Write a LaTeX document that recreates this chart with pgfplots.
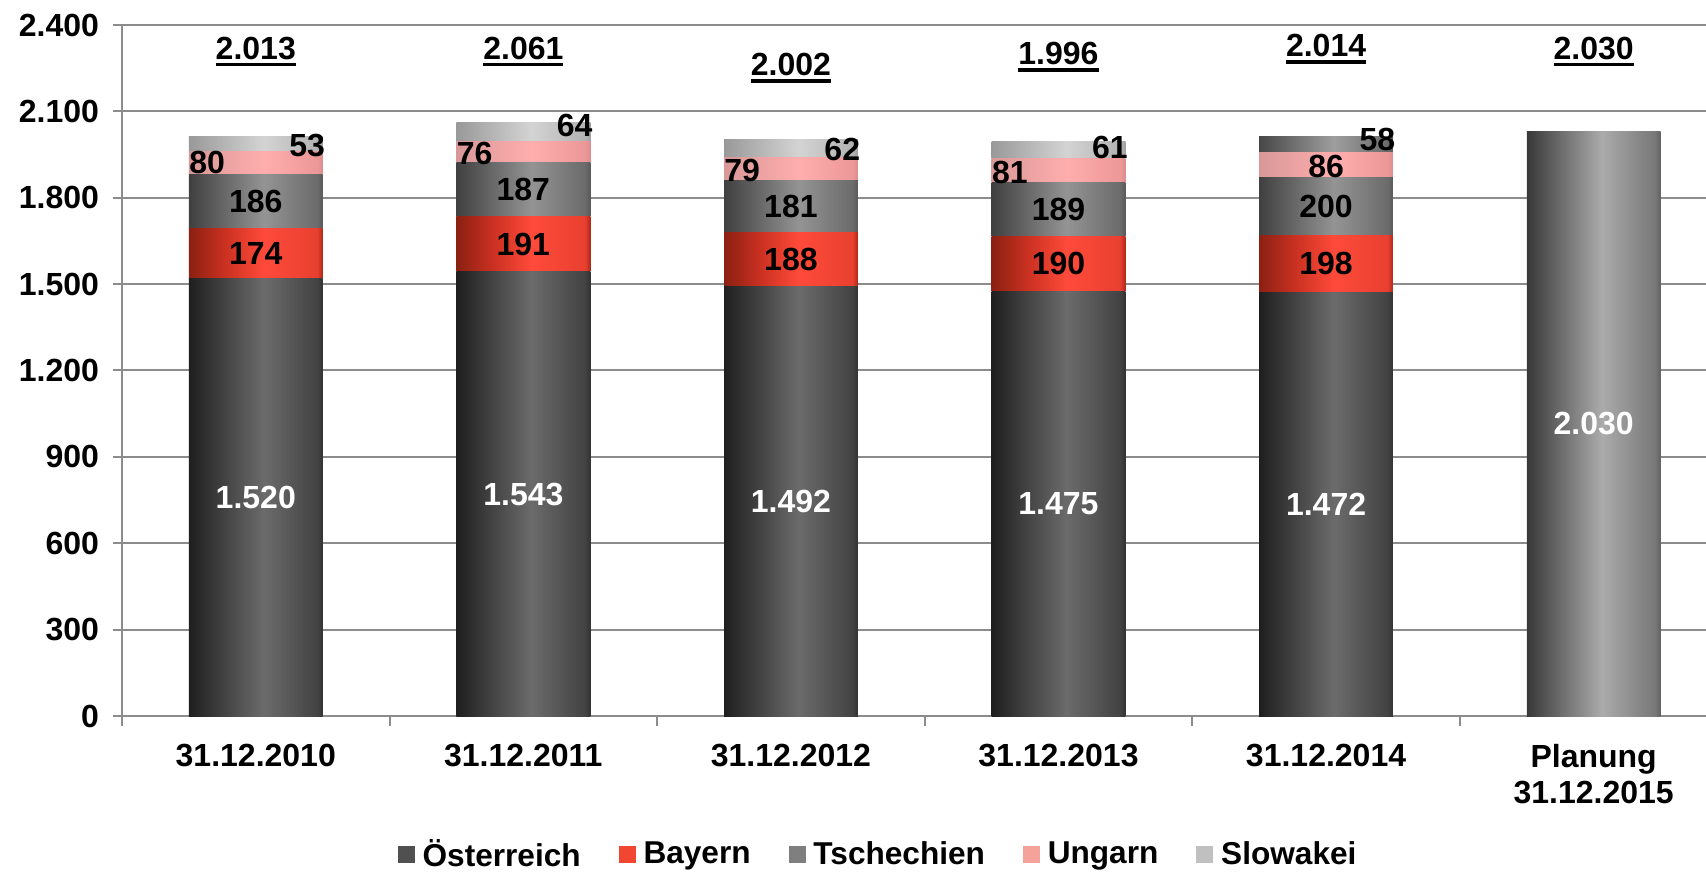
\documentclass[border=0pt]{standalone}
\usepackage{fontspec}
\setmainfont{Liberation Sans}
\usepackage{pgfplots}
\pgfplotsset{compat=1.18}

\definecolor{gridgray}{HTML}{8C8C8C}
\definecolor{oeLeg}{HTML}{505050}\definecolor{bayLeg}{HTML}{F04632}
\definecolor{tsLeg}{HTML}{7F7F7F}\definecolor{unLeg}{HTML}{F5A39A}\definecolor{slLeg}{HTML}{C0C0C0}
\definecolor{bay1}{HTML}{8A2012}\definecolor{bay2}{HTML}{C83020}\definecolor{bay3}{HTML}{FF4A3A}
\definecolor{bay4}{HTML}{E84030}\definecolor{bay5}{HTML}{B02818}

% horizontal gradients: dark left, light peak at ~57%, darker right, dark edge
\pgfdeclarehorizontalshading{oeS}{100bp}{color(0bp)=(black!88); color(25bp)=(black!88); color(53bp)=(black!58); color(73bp)=(black!74); color(75bp)=(black!80); color(100bp)=(black!80)}
\pgfdeclarehorizontalshading{bayS}{100bp}{color(0bp)=(bay1); color(25bp)=(bay1); color(38bp)=(bay2); color(53bp)=(bay3); color(73bp)=(bay4); color(75bp)=(bay5); color(100bp)=(bay5)}
\pgfdeclarehorizontalshading{tsS}{100bp}{color(0bp)=(black!75); color(25bp)=(black!75); color(53bp)=(black!42); color(73bp)=(black!58); color(75bp)=(black!65); color(100bp)=(black!65)}
\pgfdeclarehorizontalshading{unS}{100bp}{color(0bp)=(red!30!white!85!black); color(25bp)=(red!30!white!85!black); color(53bp)=(red!32!white); color(73bp)=(red!36!white!93!black); color(75bp)=(red!36!white!86!black); color(100bp)=(red!36!white!86!black)}
\pgfdeclarehorizontalshading{slS}{100bp}{color(0bp)=(black!40); color(25bp)=(black!40); color(53bp)=(black!17); color(73bp)=(black!30); color(75bp)=(black!37); color(100bp)=(black!37)}
\pgfdeclarehorizontalshading{sdS}{100bp}{color(0bp)=(black!72); color(25bp)=(black!72); color(53bp)=(black!38); color(73bp)=(black!58); color(75bp)=(black!65); color(100bp)=(black!65)}
\pgfdeclarehorizontalshading{plS}{100bp}{color(0bp)=(black!78); color(25bp)=(black!78); color(53bp)=(black!33); color(73bp)=(black!53); color(75bp)=(black!62); color(100bp)=(black!62)}

\newcommand\ul[1]{\setbox0\hbox{#1}\leavevmode\rlap{\rule[-3.5pt]{\wd0}{1.6pt}}\box0}

\pgfplotsset{
  base/.style={
    width=792pt, height=345.5pt, scale only axis,
    xmin=-0.5, xmax=5.42, ymin=0, ymax=2400,
    ybar stacked, bar width=0.5, clip=false,
  },
  oe/.style={draw=none, shading=oeS, shade, forget plot},
  bay/.style={draw=none, shading=bayS, shade, forget plot},
  ts/.style={draw=none, shading=tsS, shade, forget plot},
  un/.style={draw=none, shading=unS, shade, forget plot},
  sl/.style={draw=none, shading=slS, shade, forget plot},
  sd/.style={draw=none, shading=sdS, shade, forget plot},
  pl/.style={draw=none, shading=plS, shade, forget plot},
}

\begin{document}
\begin{tikzpicture}[font=\fontsize{16}{18}\selectfont\bfseries]
% axis, grid, ticks, legend and the 2010 bar
\begin{axis}[
  base,
  axis x line*=bottom, axis y line*=left,
  axis line style={gridgray, line width=1pt},
  ytick={0,300,...,2400},
  ymajorgrids, grid style={gridgray, line width=1pt},
  /pgf/number format/1000 sep={.},
  /pgf/number format/assume math mode=true,
  tick align=outside,
  major tick length=4.5pt,
  minor tick length=5pt,
  ytick style={gridgray, line width=1pt},
  xtick={0,...,5},
  xticklabels={31.12.2010,31.12.2011,31.12.2012,31.12.2013,31.12.2014,{Planung\\31.12.2015}},
  xticklabel style={align=center, yshift=-6pt},
  yticklabel style={xshift=-3.5pt},
  xtick style={draw=none},
  minor xtick={-0.5,0.5,...,4.5},
  minor x tick style={draw=gridgray, line width=1pt},
  legend style={at={(0.478,-0.2)}, anchor=center, draw=none, fill=none,
    legend columns=5, /tikz/every even column/.append style={column sep=17pt},
    inner sep=0pt, font=\fontsize{15.8}{18}\selectfont\bfseries},
  legend cell align=left,
]
\addplot[oe]  coordinates {(0,1520)};
\addplot[bay] coordinates {(0,174)};
\addplot[ts]  coordinates {(0,186)};
\addplot[un]  coordinates {(0,80)};
\addplot[sl]  coordinates {(0,53)};

\addlegendimage{legend image code/.code={\fill[oeLeg] (0pt,-4pt) rectangle (8pt,4pt); \path (10pt,0pt);}}
\addlegendentry{Österreich}
\addlegendimage{legend image code/.code={\fill[bayLeg] (0pt,-4pt) rectangle (8pt,4pt); \path (10pt,0pt);}}
\addlegendentry{Bayern}
\addlegendimage{legend image code/.code={\fill[tsLeg] (0pt,-4pt) rectangle (8pt,4pt); \path (10pt,0pt);}}
\addlegendentry{Tschechien}
\addlegendimage{legend image code/.code={\fill[unLeg] (0pt,-4pt) rectangle (8pt,4pt); \path (10pt,0pt);}}
\addlegendentry{Ungarn}
\addlegendimage{legend image code/.code={\fill[slLeg] (0pt,-4pt) rectangle (8pt,4pt); \path (10pt,0pt);}}
\addlegendentry{Slowakei}

\coordinate (BL) at (rel axis cs:0,0);
\coordinate (TR) at (rel axis cs:1,1);
\end{axis}

% 2011
\begin{axis}[base, hide axis]
\addplot[oe]  coordinates {(1,1543)};
\addplot[bay] coordinates {(1,191)};
\addplot[ts]  coordinates {(1,187)};
\addplot[un]  coordinates {(1,76)};
\addplot[sl]  coordinates {(1,64)};
\end{axis}
% 2012
\begin{axis}[base, hide axis]
\addplot[oe]  coordinates {(2,1492)};
\addplot[bay] coordinates {(2,188)};
\addplot[ts]  coordinates {(2,181)};
\addplot[un]  coordinates {(2,79)};
\addplot[sl]  coordinates {(2,62)};
\end{axis}
% 2013
\begin{axis}[base, hide axis]
\addplot[oe]  coordinates {(3,1475)};
\addplot[bay] coordinates {(3,190)};
\addplot[ts]  coordinates {(3,189)};
\addplot[un]  coordinates {(3,81)};
\addplot[sl]  coordinates {(3,61)};
\end{axis}
% 2014
\begin{axis}[base, hide axis]
\addplot[oe]  coordinates {(4,1472)};
\addplot[bay] coordinates {(4,198)};
\addplot[ts]  coordinates {(4,200)};
\addplot[un]  coordinates {(4,86)};
\addplot[sd]  coordinates {(4,58)};
\end{axis}
% Planung 2015
\begin{axis}[base, hide axis]
\addplot[pl]  coordinates {(5,2030)};
\end{axis}

% value labels
\begin{axis}[base, hide axis]
% totals
\node at (axis cs:0,2307) {\ul{2.013}};
\node at (axis cs:1,2307) {\ul{2.061}};
\node at (axis cs:2,2251) {\ul{2.002}};
\node at (axis cs:3,2289) {\ul{1.996}};
\node at (axis cs:4,2317) {\ul{2.014}};
\node at (axis cs:5,2307) {\ul{2.030}};
% Oesterreich
\node[white] at (axis cs:0,760) {1.520};
\node[white] at (axis cs:1,771) {1.543};
\node[white] at (axis cs:2,746) {1.492};
\node[white] at (axis cs:3,737) {1.475};
\node[white] at (axis cs:4,736) {1.472};
\node[white] at (axis cs:5,1015) {2.030};
% Bayern
\node at (axis cs:0,1607) {174};
\node at (axis cs:1,1638) {191};
\node at (axis cs:2,1586) {188};
\node at (axis cs:3,1570) {190};
\node at (axis cs:4,1571) {198};
% Tschechien
\node at (axis cs:0,1787) {186};
\node at (axis cs:1,1827) {187};
\node at (axis cs:2,1770) {181};
\node at (axis cs:3,1759) {189};
\node at (axis cs:4,1770) {200};
% Ungarn
\node[anchor=west, inner xsep=0pt] at (axis cs:-0.25,1921) {80};
\node[anchor=west, inner xsep=0pt] at (axis cs:0.75,1955) {76};
\node[anchor=west, inner xsep=0pt] at (axis cs:1.75,1893) {79};
\node[anchor=west, inner xsep=0pt] at (axis cs:2.75,1889) {81};
\node at (axis cs:4,1910) {86};
% Slowakei
\node[anchor=east, inner xsep=0pt] at (axis cs:0.26,1983) {53};
\node[anchor=east, inner xsep=0pt] at (axis cs:1.26,2052) {64};
\node[anchor=east, inner xsep=0pt] at (axis cs:2.26,1969) {62};
\node[anchor=east, inner xsep=0pt] at (axis cs:3.26,1976) {61};
\node[anchor=east, inner xsep=0pt] at (axis cs:4.26,2004) {58};
\end{axis}

\pgfresetboundingbox
\path[use as bounding box] ([shift={(-61pt,-78pt)}]BL) rectangle ([shift={(0pt,12.5pt)}]TR);
\end{tikzpicture}
\end{document}
